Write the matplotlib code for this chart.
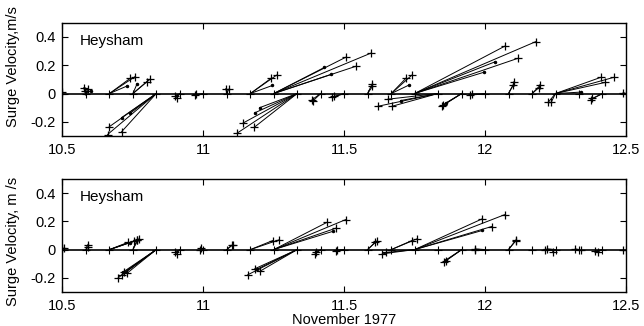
import matplotlib
matplotlib.use("Agg")
import matplotlib.pyplot as plt

plt.rcParams['font.family'] = ['Liberation Sans', 'DejaVu Sans']
plt.rcParams['font.size'] = 10.5

# base times of the 2-hourly vectors (days, November 1977)
base_times = [10.5 + k / 12 for k in range(25)]

x_ticks = [10.5, 11, 11.5, 12, 12.5]
x_labels = ['10.5', '11', '11.5', '12', '12.5']
y_ticks = [-0.2, 0, 0.2, 0.4]
y_labels = ['-0.2', '0', '0.2', '0.4']

# top panel: observed tips (+)
top_plus_base = [10.5, 10.583, 10.583, 10.583, 10.667, 10.667, 10.75, 10.75,
                 10.833, 10.833, 10.833, 10.917, 10.917, 11.0, 11.0, 11.083, 11.083,
                 11.333, 11.333, 11.333, 11.167, 11.167, 11.25, 11.25, 11.25,
                 11.417, 11.417, 11.5, 11.5, 11.583, 11.583, 11.667, 11.667,
                 11.75, 11.75, 11.75, 11.833, 11.833, 11.833, 11.917, 11.917,
                 12.0, 12.0, 12.083, 12.083, 12.167, 12.167, 12.25, 12.25,
                 12.25, 12.25, 12.25, 12.417, 12.417, 12.5]
top_plus_x = [10.5, 10.575, 10.59, 10.58, 10.74, 10.758, 10.81, 10.80,
              10.666, 10.66, 10.71, 10.90, 10.905, 10.97, 10.975, 11.08, 11.09,
              11.12, 11.14, 11.18, 11.24, 11.26, 11.594, 11.506, 11.542,
              11.386, 11.39, 11.458, 11.465, 11.598, 11.60, 11.72, 11.74,
              12.18, 12.07, 12.118, 11.62, 11.67, 11.655, 11.846, 11.85,
              11.948, 11.955, 12.104, 12.10, 12.195, 12.19, 12.224, 12.235,
              12.41, 12.456, 12.425, 12.375, 12.38, 12.49]
top_plus_y = [0.01, 0.04, 0.03, 0.02, 0.107, 0.12, 0.10, 0.085,
              -0.235, -0.29, -0.27, -0.02, -0.03, -0.01, 0.0, 0.035, 0.03,
              -0.28, -0.21, -0.24, 0.107, 0.13, 0.285, 0.257, 0.193,
              -0.043, -0.05, -0.028, -0.02, 0.064, 0.05, 0.11, 0.13,
              0.367, 0.335, 0.25, -0.09, -0.09, -0.04, -0.09, -0.08,
              -0.007, 0.0, 0.078, 0.06, 0.057, 0.04, -0.062, -0.06,
              0.114, 0.114, 0.078, -0.043, -0.035, 0.007]

# top panel: model tips (.)
top_dot_base = [10.583, 10.667, 10.75, 10.833, 10.833, 11.333, 11.333, 11.167,
                11.25, 11.25, 11.667, 11.75, 11.75, 11.833, 11.917, 12.25]
top_dot_x = [10.60, 10.728, 10.765, 10.71, 10.74, 11.182, 11.20, 11.245,
             11.43, 11.453, 11.73, 12.035, 11.995, 11.70, 11.86, 12.34]
top_dot_y = [0.02, 0.052, 0.07, -0.17, -0.14, -0.137, -0.10, 0.057,
             0.185, 0.135, 0.06, 0.224, 0.15, -0.05, -0.07, 0.01]

# bottom panel: observed tips (+)
bot_plus_base = [10.5, 10.5, 10.583, 10.583, 10.667, 10.667, 10.667, 10.75, 10.75,
                 10.833, 10.833, 10.833, 10.833, 10.917, 10.917, 11.0, 11.0,
                 11.083, 11.083, 11.333, 11.333, 11.333, 11.167, 11.167,
                 11.25, 11.25, 11.25, 11.417, 11.417, 11.5, 11.5, 11.583, 11.583,
                 11.667, 11.667, 11.75, 11.75, 11.75, 11.75, 11.75,
                 11.917, 11.917, 12.0, 12.0, 12.083, 12.083,
                 12.25, 12.25, 12.25, 12.333, 12.333, 12.417, 12.417, 12.5]
bot_plus_x = [10.5, 10.505, 10.592, 10.59, 10.733, 10.765, 10.755, 10.765, 10.77,
              10.698, 10.71, 10.728, 10.72, 10.90, 10.905, 10.988, 10.99,
              11.10, 11.105, 11.157, 11.182, 11.20, 11.246, 11.268,
              11.506, 11.44, 11.47, 11.397, 11.40, 11.472, 11.475, 11.61, 11.615,
              11.74, 11.76, 12.069, 11.99, 12.023, 11.635, 11.65,
              11.853, 11.86, 11.963, 11.965, 12.108, 12.11,
              12.213, 12.24, 12.22, 12.34, 12.32, 12.39, 12.40, 12.49]
bot_plus_y = [0.014, 0.01, 0.02, 0.035, 0.052, 0.07, 0.06, 0.07, 0.075,
              -0.20, -0.18, -0.17, -0.16, -0.02, -0.03, 0.0, 0.01,
              0.03, 0.035, -0.18, -0.137, -0.155, 0.064, 0.069,
              0.214, 0.195, 0.152, -0.03, -0.02, -0.012, -0.005, 0.052, 0.06,
              0.064, 0.078, 0.248, 0.219, 0.164, -0.03, -0.02,
              -0.09, -0.08, 0.0, 0.005, 0.06, 0.07,
              0.0, -0.015, 0.005, 0.0, 0.005, -0.01, -0.015, 0.0]

# bottom panel: model tips (.)
bot_dot_base = [10.667, 10.833, 11.333, 11.25, 11.75, 11.917]
bot_dot_x = [10.74, 10.715, 11.19, 11.46, 11.99, 11.86]
bot_dot_y = [0.05, -0.16, -0.14, 0.13, 0.136, -0.075]

fig = plt.figure(figsize=(6.44, 3.26), dpi=100)
ax1 = fig.add_axes([0.097, 0.583, 0.875, 0.347])
ax2 = fig.add_axes([0.097, 0.105, 0.875, 0.345])

panels = [
    (ax1, top_plus_base, top_plus_x, top_plus_y, top_dot_base, top_dot_x, top_dot_y,
     'Surge Velocity,m/s', 0.61),
    (ax2, bot_plus_base, bot_plus_x, bot_plus_y, bot_dot_base, bot_dot_x, bot_dot_y,
     'Surge Velocity, m /s', 0.45),
]

for ax, pb, px, py, db, dx, dy, ylab, ly in panels:
    ax.axhline(0, color='k', lw=1.2, zorder=1)
    for b, x, y in zip(pb, px, py):
        ax.plot([b, x], [0, y], color='k', lw=0.7)
    for b, x, y in zip(db, dx, dy):
        ax.plot([b, x], [0, y], color='k', lw=0.7)
    ax.plot(px, py, 'k+', ms=6, mew=0.9)
    ax.plot(dx, dy, 'k.', ms=3)
    ax.plot(base_times, [0] * len(base_times), 'k+', ms=6, mew=0.8)
    ax.set_xlim(10.5, 12.5)
    ax.set_ylim(-0.3, 0.5)
    ax.set_xticks(x_ticks)
    ax.set_xticklabels(x_labels)
    ax.set_yticks(y_ticks)
    ax.set_yticklabels(y_labels)
    ax.tick_params(direction='in', top=True, right=True, length=4, width=0.8, pad=5)
    for s in ax.spines.values():
        s.set_linewidth(1.0)
    ax.set_ylabel(ylab)
    ax.yaxis.set_label_coords(-0.075, ly)
    ax.text(0.03, 0.84, 'Heysham', transform=ax.transAxes, fontsize=11, va='center')

ax2.set_xlabel('November 1977', labelpad=0)

fig.savefig('out.png', dpi=100)
